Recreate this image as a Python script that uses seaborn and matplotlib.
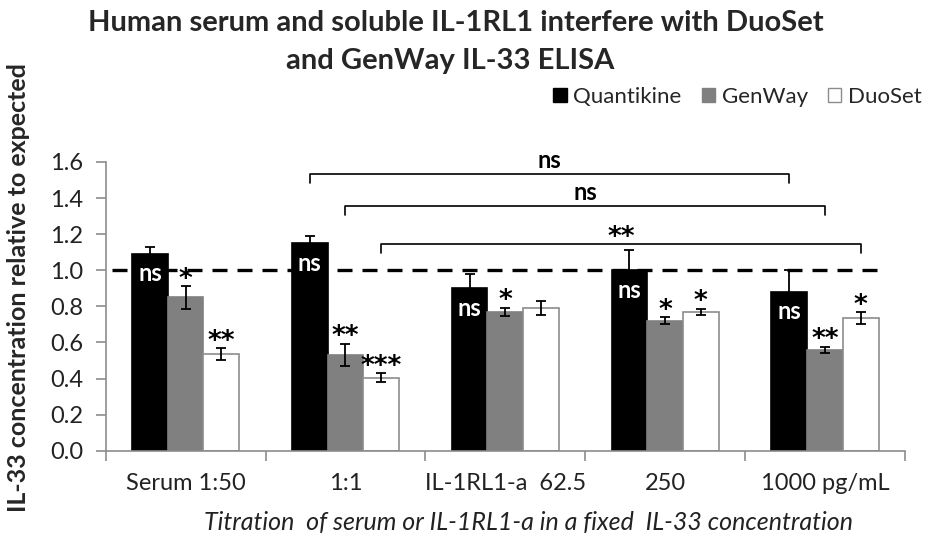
import matplotlib
matplotlib.use("Agg")
import matplotlib.pyplot as plt
import matplotlib.patches as mpatches
import pandas as pd
import seaborn as sns

# values
groups = ["Serum 1:50", "1:1", "IL-1RL1-a  62.5", "250", "1000 pg/mL"]
kits = ["Quantikine", "GenWay", "DuoSet"]
quantikine = [1.09, 1.15, 0.90, 1.00, 0.88]
quantikine_err = [0.04, 0.04, 0.08, 0.115, 0.12]
genway = [0.85, 0.53, 0.77, 0.72, 0.56]
genway_err = [0.063, 0.063, 0.023, 0.02, 0.016]
duoset = [0.535, 0.405, 0.79, 0.77, 0.735]
duoset_err = [0.034, 0.025, 0.04, 0.018, 0.034]
quantikine_sig = ["ns", "ns", "ns", "ns", "ns"]
genway_sig = ["*", "**", "*", "*", "**"]
duoset_sig = ["**", "***", "", "*", "*"]
bracket_labels = ["ns", "ns", "**"]   # 1:1 vs 1000 pg/mL, one per kit

colors = ["#000000", "#808080", "#ffffff"]
edges = ["#000000", "#808080", "#8c8c8c"]

rows = []
for kit, vals in zip(kits, [quantikine, genway, duoset]):
    for g, v in zip(groups, vals):
        rows.append({"group": g, "kit": kit, "value": v})
df = pd.DataFrame(rows)

sns.set_theme(style="white")
plt.rcParams["font.family"] = ["Lato", "DejaVu Sans"]

fig = plt.figure(figsize=(9.26, 5.40), dpi=100)
ax = fig.add_axes([0.1141, 0.1654, 0.8632, 0.5346])

sns.barplot(data=df, x="group", y="value", hue="kit", order=groups, hue_order=kits,
            palette=colors, width=0.67, errorbar=None, legend=False, ax=ax, zorder=2)


def star_or_text(x, y, s, color, ax):
    # asterisks sit high in the font, so put them on the baseline
    if "*" in s:
        ax.text(x, y - 0.004, s, color=color, ha="center", va="baseline",
                fontsize=19, fontweight="bold", family="DejaVu Sans",
                zorder=6, clip_on=False)
    else:
        ax.text(x, y + 0.01, s, color=color, ha="center", va="bottom",
                fontsize=17, fontweight="bold", zorder=6, clip_on=False)


errs = [quantikine_err, genway_err, duoset_err]
sigs = [quantikine_sig, genway_sig, duoset_sig]
bar_containers = list(ax.containers)
centers = []
for i, cont in enumerate(bar_containers):
    xs = []
    for bar in cont:
        bar.set_edgecolor(edges[i])
        bar.set_linewidth(1.2)
        xs.append(bar.get_x() + bar.get_width() / 2)
    centers.append(xs)
    vals = [b.get_height() for b in cont]
    ax.errorbar(xs, vals, yerr=errs[i], fmt="none", ecolor="black",
                elinewidth=1.3, capsize=3.7, capthick=1.3, zorder=4)
    for x, v, e, s in zip(xs, vals, errs[i], sigs[i]):
        if not s:
            continue
        if i == 0:
            ax.text(x, v - 0.11, s, color="white", ha="center", va="center",
                    fontsize=17, fontweight="bold", zorder=6)
        else:
            star_or_text(x, v + e, s, "black", ax)

# reference line at 1.0
ax.hlines(1.0, -0.46, 4.36, colors="black", linestyles=(0, (4.5, 3)),
          linewidth=2.4, zorder=3)

# brackets: 1:1 vs 1000 pg/mL for each kit
levels = [1.532, 1.355, 1.144]
for i, (lvl, lab) in enumerate(zip(levels, bracket_labels)):
    x0, x1 = centers[i][1], centers[i][4]
    ax.plot([x0, x0, x1, x1], [lvl - 0.05, lvl, lvl, lvl - 0.05], color="black",
            linewidth=1.2, clip_on=False, zorder=5)
    star_or_text((x0 + x1) / 2, lvl, lab, "black", ax)

ax.set_ylim(0, 1.6)
ax.set_xlim(-0.5, 4.5)
ax.set_yticks([0, 0.2, 0.4, 0.6, 0.8, 1.0, 1.2, 1.4, 1.6])
ax.set_yticklabels([f"{t:.1f}" for t in ax.get_yticks()], fontsize=17, color="#222222")
ax.set_xticks(range(len(groups)))
ax.set_xticklabels(groups, fontsize=17, color="#222222")
ax.set_xticks([-0.5, 0.5, 1.5, 2.5, 3.5, 4.5], minor=True)
ax.tick_params(axis="x", which="major", length=0, pad=16)
ax.tick_params(axis="x", which="minor", length=7, color="#8c8c8c", width=1.2, direction="out", bottom=True)
ax.tick_params(axis="y", length=7, color="#8c8c8c", width=1.2, direction="out", left=True, pad=9)
ax.set_xlabel("")
ax.set_ylabel("")
for side in ["top", "right"]:
    ax.spines[side].set_visible(False)
for side in ["left", "bottom"]:
    ax.spines[side].set_color("#8c8c8c")
    ax.spines[side].set_linewidth(1.2)

fig.text(0.4925, 0.957, "Human serum and soluble IL-1RL1 interfere with DuoSet",
         ha="center", va="center", fontsize=21, fontweight="bold")
fig.text(0.486, 0.887, "and GenWay IL-33 ELISA",
         ha="center", va="center", fontsize=21, fontweight="bold")
fig.text(0.02, 0.467, "IL-33 concentration relative to expected", rotation=90,
         ha="center", va="center", fontsize=18, fontweight="bold")
fig.text(0.571, 0.033, "Titration  of serum or IL-1RL1-a in a fixed  IL-33 concentration",
         ha="center", va="center", fontsize=18, style="italic", color="#222222")

handles = [mpatches.Patch(facecolor=c, edgecolor=e, label=k) for c, e, k in zip(colors, edges, kits)]
fig.legend(handles=handles, loc="center right", bbox_to_anchor=(1.0, 0.82), ncol=3,
           frameon=False, fontsize=16, handlelength=0.6, handleheight=0.6,
           handletextpad=0.3, columnspacing=0.9, borderaxespad=0, borderpad=0.2)

fig.savefig("out.png", dpi=100)
